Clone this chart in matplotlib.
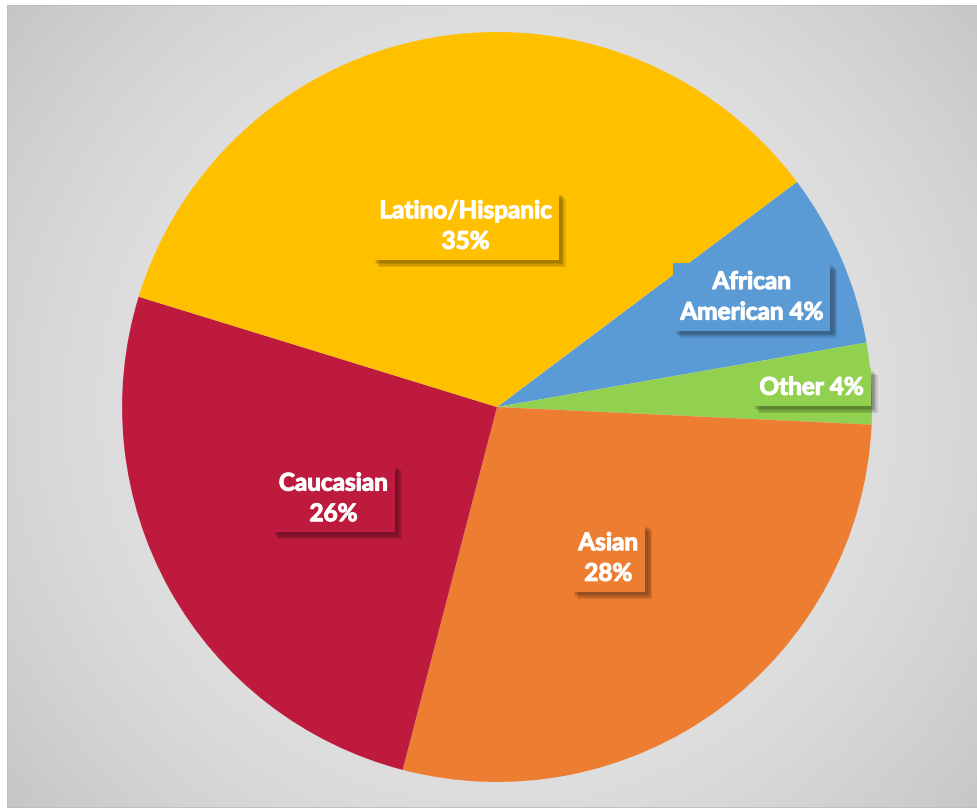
import numpy as np
import matplotlib
matplotlib.use('Agg')
import matplotlib.pyplot as plt
import matplotlib.patheffects as pe
from matplotlib.patches import Rectangle

# slice data (clockwise from the African American slice)
groups = ['African American', 'Other', 'Asian', 'Caucasian', 'Latino/Hispanic']
shares = [7.5, 3.5, 28.3, 25.7, 35.0]
label_texts = ['African\nAmerican 4%', 'Other 4%', 'Asian\n28%', 'Caucasian\n26%', 'Latino/Hispanic\n35%']
colors = ['#5B9BD5', '#92D050', '#ED7D31', '#BE1A3E', '#FFC000']
label_dist = [0.74, 0.84, 0.50, 0.50, 0.49]

fig = plt.figure(figsize=(9.78, 8.08), dpi=100)
fig.patch.set_facecolor('white')

# grey radial gradient background
bg = fig.add_axes([7 / 978, 0, 1 - 7 / 978, 1 - 5 / 808])
bg.set_axis_off()
yy, xx = np.mgrid[0:803, 0:971]
d = np.hypot(xx - 490, yy - 402) / 632.0
shade = 0.92 - 0.145 * d ** 2
bg.imshow(np.dstack([shade, shade, shade]), aspect='auto', extent=[0, 1, 0, 1])
bg.add_patch(Rectangle((0, 0), 1, 1, transform=bg.transAxes, fill=False,
                       edgecolor='#bdbdbd', linewidth=1.2))
bg.set_xlim(0, 1)
bg.set_ylim(0, 1)

ax = fig.add_axes([0.1248, 0.0322, 0.7669, 0.9282])
ax.set_axis_off()
wedges, _ = ax.pie(shares, colors=colors, startangle=36.9, counterclock=False,
                   radius=1, wedgeprops=dict(linewidth=0))
ax.set_xlim(-1, 1)
ax.set_ylim(-1, 1)
ax.set_aspect('equal')

# soft drop shadow for label boxes
shadow = [pe.SimplePatchShadow(offset=(o, -o), shadow_rgbFace='black', alpha=0.1)
          for o in (5, 4, 3, 2)]

for w, txt, c, r in zip(wedges, label_texts, colors, label_dist):
    ang = np.deg2rad((w.theta1 + w.theta2) / 2)
    t = ax.text(r * np.cos(ang), r * np.sin(ang), txt, ha='center', va='center',
                color='white', fontsize=17.5, fontweight='bold', family='Lato',
                linespacing=1.4,
                bbox=dict(boxstyle='square,pad=0.3', facecolor=c, edgecolor='none'))
    t.set_path_effects([pe.withStroke(linewidth=0.8, foreground='white')])
    t.get_bbox_patch().set_path_effects(shadow + [pe.Normal()])

fig.savefig('out.png', dpi=100)
